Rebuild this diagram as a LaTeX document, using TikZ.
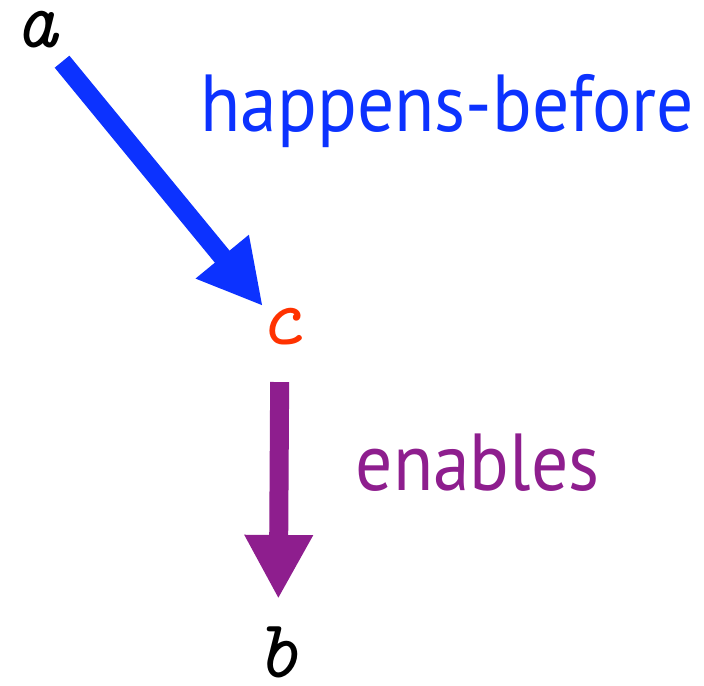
\documentclass[tikz,border=0pt]{standalone}
\usepackage{fontspec}
\setmainfont{PT Sans}
\usetikzlibrary{arrows.meta}
\definecolor{hbblue}{RGB}{12,50,255}
\definecolor{enpurple}{RGB}{142,30,142}
\definecolor{evred}{RGB}{255,50,0}
\newcommand\narrowtext[1]{\scalebox{0.91}[1]{#1}}
\begin{document}
\begin{tikzpicture}[x=0.01cm, y=-0.01cm,
		event/.style={inner sep=0pt, font=\ttfamily\itshape\fontsize{23.6}{28}\selectfont},
		rel/.style={inner sep=0pt, anchor=base west, font=\fontsize{23}{27}\selectfont},
		hb/.style={hbblue, line width=5.4pt, -{Triangle[length=6.4mm, width=6.4mm]}},
		en/.style={enpurple, line width=5.4pt, -{Triangle[length=6.4mm, width=6.4mm]}}]
		\useasboundingbox (0,0) rectangle (704,685);
		
		\node[event] (a) at (36,30) {a};
		\node[event, evred] (c) at (280,327) {c};
		\node[event] (b) at (278,652) {b};
		
		\draw[hb, shorten <=4.1mm, shorten >=2.7mm] (a.center) -- (c.center);
		\draw[en, shorten <=5.5mm, shorten >=5.3mm] (c.center) -- (b.center);
		
		\node[rel, hbblue] (hblabel) at (200,132) {\narrowtext{happens-before}};
		\node[rel, enpurple] (enlabel) at (355,490) {\narrowtext{enables}};
	\end{tikzpicture}
\end{document}
